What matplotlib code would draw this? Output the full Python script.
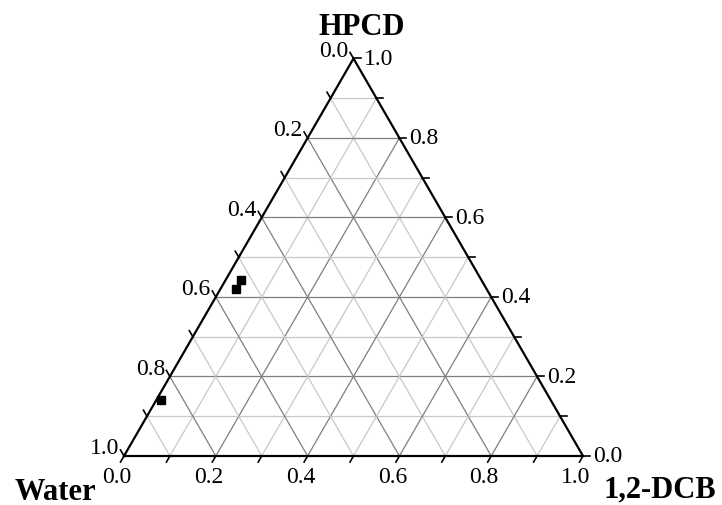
import numpy as np
import matplotlib
matplotlib.use("Agg")
import matplotlib.pyplot as plt

# Data (fractions): Water, HPCD, 1,2-DCB
water = [0.524, 0.547, 0.849]
hpcd = [0.443, 0.419, 0.142]
dcb = [0.033, 0.034, 0.009]

tick_vals = [0.0, 0.2, 0.4, 0.6, 0.8, 1.0]
tick_labels = ["0.0", "0.2", "0.4", "0.6", "0.8", "1.0"]
axis_titles = ["Water", "1,2-DCB", "HPCD"]

W, H = 722, 506
fig = plt.figure(figsize=(W / 100, H / 100), dpi=100)
ax = fig.add_axes([0, 0, 1, 1])
S = 459.0  # pixels per unit
x0, yb = 124.0, 457.0  # water vertex pixel
ax.set_xlim(-x0 / S, (W - x0) / S)
ax.set_ylim((yb - H) / S, yb / S)
ax.axis("off")

plt.rcParams["font.family"] = ["Liberation Serif", "DejaVu Serif"]
r3 = np.sqrt(3) / 2


def proj(h, d):
    return d + h / 2.0, h * r3


px = 1.0 / S

# Grid lines
for k in range(1, 10):
    v = k / 10.0
    col = "#7f7f7f" if k % 2 == 0 else "#c8c8c8"
    lw = 0.9
    a = proj(v, 0.0); b = proj(v, 1 - v)
    ax.plot([a[0], b[0]], [a[1], b[1]], color=col, lw=lw, zorder=1)
    a = proj(0.0, v); b = proj(1 - v, v)
    ax.plot([a[0], b[0]], [a[1], b[1]], color=col, lw=lw, zorder=1)
    a = proj(1 - v, 0.0); b = proj(0.0, 1 - v)
    ax.plot([a[0], b[0]], [a[1], b[1]], color=col, lw=lw, zorder=1)

# Triangle edges
tri = [proj(0, 0), proj(0, 1), proj(1, 0), proj(0, 0)]
ax.plot([p[0] for p in tri], [p[1] for p in tri], color="black", lw=1.6,
        zorder=3, solid_joinstyle="miter")

tl = 7 * px
fs = 17
for k in range(11):
    v = k / 10.0
    bx, by = proj(0, v)
    ax.plot([bx, bx - 0.5 * tl], [by, by - r3 * tl], color="black", lw=1.2, zorder=3)
    rx, ry = proj(v, 1 - v)
    ax.plot([rx, rx + tl], [ry, ry], color="black", lw=1.2, zorder=3)
    lx, ly = proj(1 - v, 0)
    ax.plot([lx, lx - 0.5 * tl], [ly, ly + r3 * tl], color="black", lw=1.2, zorder=3)

for v, lab in zip(tick_vals, tick_labels):
    bx, by = proj(0, v)
    ax.text(bx - 7 * px, by - 10 * px, lab, ha="center", va="top", fontsize=fs)
    rx, ry = proj(v, 1 - v)
    ax.text(rx + 10 * px, ry, lab, ha="left", va="center", fontsize=fs)
    lx, ly = proj(1 - v, 0)
    ax.text(lx - 5 * px, ly + 8 * px, lab, ha="right", va="center", fontsize=fs)

# Axis titles
ax.text((55 - x0) * px, (yb - 500) * px, axis_titles[0], ha="center", va="baseline",
        fontsize=22, fontweight="bold")
ax.text((660 - x0) * px, (yb - 497) * px, axis_titles[1], ha="center", va="baseline",
        fontsize=22, fontweight="bold")
ax.text((362 - x0) * px, (yb - 35) * px, axis_titles[2], ha="center", va="baseline",
        fontsize=22, fontweight="bold")

# Data points
xs = [d + h / 2.0 for h, d in zip(hpcd, dcb)]
ys = [h * r3 for h in hpcd]
ax.plot(xs, ys, linestyle="none", marker="s", color="black", markersize=5.8, zorder=4)

fig.savefig("out.png", dpi=100)
